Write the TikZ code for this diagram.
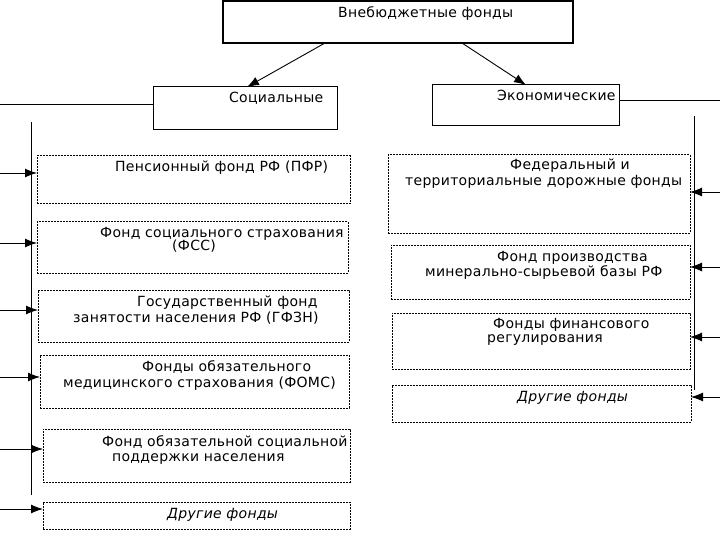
\documentclass[tikz,border=0pt]{standalone}
\usepackage{fontspec}
\setmainfont{DejaVu Sans}[LetterSpace=2]
\usetikzlibrary{arrows.meta}
\tikzset{
  box/.style={draw, line width=1pt, anchor=north west, inner sep=0pt, outer sep=0pt},
  topbox/.style={box, line width=2.8pt},
  dbox/.style={draw, line width=1pt, dash pattern=on 2pt off 1pt, anchor=north west, inner sep=0pt, outer sep=0pt},
  txt/.style={anchor=base west, inner sep=0pt, font=\fontsize{14}{16}\selectfont},
  itxt/.style={txt, font=\fontsize{14}{16}\selectfont\itshape},
  arr/.style={line width=0.9pt, -{Latex[length=12pt,width=9pt]}},
  ln/.style={line width=0.9pt}
}
\begin{document}
\begin{tikzpicture}[x=1pt,y=-1pt]
\useasboundingbox (0,0) rectangle (720,540);
\fill[white] (0,0) rectangle (720,540);
% top
\node[topbox, minimum width=350, minimum height=42] (top) at (223,1) {};
\node[txt] (topT) at (338,18) {Внебюджетные фонды};
% level 2
\node[box, minimum width=184, minimum height=43] (soc) at (153,87) {};
\node[txt] (socT) at (229,103) {Социальные};
\node[box, minimum width=187, minimum height=41] (econ) at (432,85) {};
\node[txt] (econT) at (497,101) {Экономические};
\coordinate (t1) at (325,43);
\coordinate (s1) at (247,87);
\coordinate (t2) at (462,43);
\coordinate (e1) at (526,85);
\draw[arr] (t1) -- (s1);
\draw[arr] (t2) -- (e1);
% side lines
\coordinate (sl) at (0,104);
\draw[ln] (soc.west |- sl) -- (sl);
\coordinate (er) at (720,100);
\draw[ln] (econ.east |- er) -- (er);
\coordinate (vl1) at (31,122);
\coordinate (vl2) at (31,495);
\draw[ln] (vl1) -- (vl2);
\coordinate (vr1) at (694,116);
\coordinate (vr2) at (694,390);
\draw[ln] (vr1) -- (vr2);
% left boxes
\node[dbox, minimum width=313, minimum height=48] (pfr) at (37,156) {};
\node[txt] (pfrT) at (115,172) {Пенсионный фонд РФ (ПФР)};
\node[dbox, minimum width=311, minimum height=51] (fss) at (37,222) {};
\node[txt] (fssT1) at (100,237) {Фонд социального страхования};
\node[txt] (fssT2) at (172,251) {(ФСС)};
\node[dbox, minimum width=311, minimum height=52] (gfzn) at (38,290) {};
\node[txt] (gfznT1) at (137,306) {Государственный фонд};
\node[txt] (gfznT2) at (73,322) {занятости населения РФ (ГФЗН)};
\node[dbox, minimum width=309, minimum height=53] (foms) at (40,355) {};
\node[txt] (fomsT1) at (142,371) {Фонды обязательного};
\node[txt] (fomsT2) at (63,387) {медицинского страхования (ФОМС)};
\node[dbox, minimum width=307, minimum height=53] (fospn) at (43,429) {};
\node[txt] (fospnT1) at (102,446) {Фонд обязательной социальной};
\node[txt] (fospnT2) at (112,461) {поддержки населения};
\node[dbox, minimum width=307, minimum height=27] (drl) at (43,502) {};
\node[itxt] (drlT) at (167,518) {Другие фонды};
% left arrows
\foreach \n/\y in {pfr/173, fss/243, gfzn/310, foms/377, fospn/449, drl/509}{
  \coordinate (a\n) at (0,\y);
  \draw[arr] (a\n) -- (a\n -| \n.west);
}
% right boxes
\node[dbox, minimum width=302, minimum height=78] (fed) at (388,155) {};
\node[txt] (fedT1) at (510,170) {Федеральный и};
\node[txt] (fedT2) at (405,186) {территориальные дорожные фонды};
\node[dbox, minimum width=299, minimum height=54] (fmsb) at (391,245) {};
\node[txt] (fmsbT1) at (497,261) {Фонд производства};
\node[txt] (fmsbT2) at (425,276) {минерально-сырьевой базы РФ};
\node[dbox, minimum width=298, minimum height=56] (ffr) at (392,313) {};
\node[txt] (ffrT1) at (493,328) {Фонды финансового};
\node[txt] (ffrT2) at (487,342) {регулирования};
\node[dbox, minimum width=299, minimum height=37] (drr) at (392,385) {};
\node[itxt] (drrT) at (517,401) {Другие фонды};
% right arrows
\foreach \n/\y in {fed/192, fmsb/267, ffr/337, drr/397}{
  \coordinate (b\n) at (720,\y);
  \draw[arr] (b\n) -- (b\n -| \n.east);
}
\end{tikzpicture}
\end{document}
